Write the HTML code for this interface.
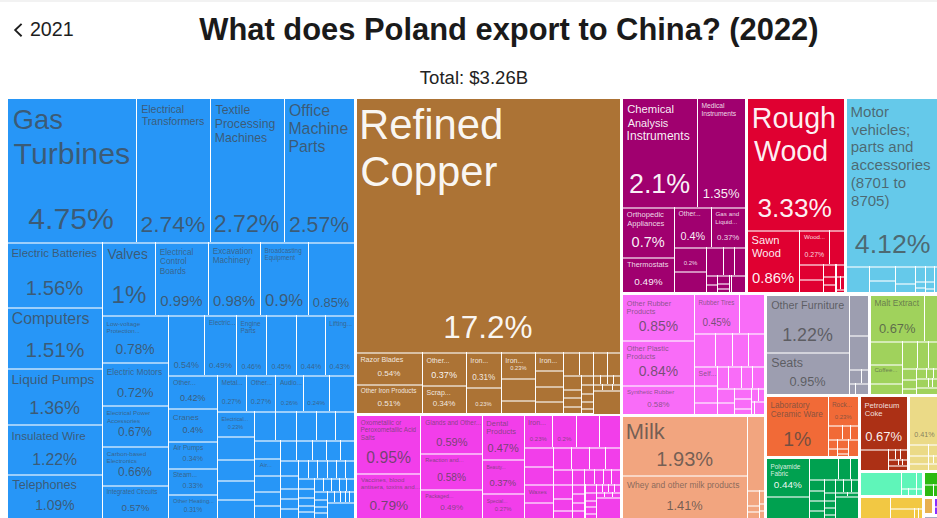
<!DOCTYPE html>
<html><head><meta charset="utf-8"><style>
html,body{margin:0;padding:0;background:#fff;width:937px;height:518px;overflow:hidden;position:relative}
body{font-family:"Liberation Sans",sans-serif}
.r{position:absolute}
.t{position:absolute;white-space:nowrap;line-height:1}
.hdr{position:absolute;left:0;top:0;width:937px;height:2px;background:#f2f2f2}
</style></head><body>
<div class="hdr"></div>
<svg style="position:absolute;left:0;top:0" width="40" height="50" viewBox="0 0 40 50"><path d="M21.6 23.9 L15.2 30.1 L21.6 36.3" fill="none" stroke="#1e1e1e" stroke-width="1.9"/></svg>
<div class="t" style="left:29.92px;top:19.94px;font-size:19.67px;color:#1e1e1e">2021</div>
<div class="t" style="left:199.30px;top:14.85px;font-size:30.88px;color:#1a1a1a;font-weight:bold">What does Poland export to China? (2022)</div>
<div class="t" style="left:419.83px;top:68.89px;font-size:18.56px;color:#222">Total: $3.26B</div>
<div class="r" style="left:8px;top:99px;width:128px;height:143px;background:#2796F7"></div>
<div class="r" style="left:137px;top:99px;width:73px;height:143px;background:#2796F7"></div>
<div class="r" style="left:211px;top:99px;width:73px;height:143px;background:#2796F7"></div>
<div class="r" style="left:285px;top:99px;width:69px;height:143px;background:#2796F7"></div>
<div class="r" style="left:8px;top:242px;width:94px;height:65px;background:#2796F7;box-shadow:inset 0 2px 0 rgba(255,255,255,0.55)"></div>
<div class="r" style="left:8px;top:307px;width:94px;height:61px;background:#2796F7;box-shadow:inset 0 2px 0 rgba(255,255,255,0.55)"></div>
<div class="r" style="left:8px;top:368px;width:94px;height:56px;background:#2796F7;box-shadow:inset 0 2px 0 rgba(255,255,255,0.55)"></div>
<div class="r" style="left:8px;top:424px;width:94px;height:50px;background:#2796F7;box-shadow:inset 0 2px 0 rgba(255,255,255,0.55)"></div>
<div class="r" style="left:8px;top:474px;width:94px;height:44px;background:#2796F7;box-shadow:inset 0 2px 0 rgba(255,255,255,0.55)"></div>
<div class="r" style="left:103px;top:242px;width:52px;height:73px;background:#2796F7;box-shadow:inset 0 2px 0 rgba(255,255,255,0.55)"></div>
<div class="r" style="left:156px;top:242px;width:52px;height:73px;background:#2796F7;box-shadow:inset 0 2px 0 rgba(255,255,255,0.55)"></div>
<div class="r" style="left:209px;top:242px;width:51px;height:73px;background:#2796F7;box-shadow:inset 0 2px 0 rgba(255,255,255,0.55)"></div>
<div class="r" style="left:261px;top:242px;width:47px;height:73px;background:#2796F7;box-shadow:inset 0 2px 0 rgba(255,255,255,0.55)"></div>
<div class="r" style="left:309px;top:242px;width:45px;height:73px;background:#2796F7;box-shadow:inset 0 2px 0 rgba(255,255,255,0.55)"></div>
<div class="r" style="left:103px;top:315px;width:65px;height:47px;background:#2796F7;box-shadow:inset 0 2px 0 rgba(255,255,255,0.55)"></div>
<div class="r" style="left:103px;top:362px;width:65px;height:43px;background:#2796F7;box-shadow:inset 0 2px 0 rgba(255,255,255,0.55)"></div>
<div class="r" style="left:103px;top:405px;width:65px;height:41px;background:#2796F7;box-shadow:inset 0 2px 0 rgba(255,255,255,0.55)"></div>
<div class="r" style="left:103px;top:446px;width:65px;height:39px;background:#2796F7;box-shadow:inset 0 2px 0 rgba(255,255,255,0.55)"></div>
<div class="r" style="left:103px;top:485px;width:65px;height:33px;background:#2796F7;box-shadow:inset 0 2px 0 rgba(255,255,255,0.55)"></div>
<div class="r" style="left:169px;top:315px;width:35px;height:60px;background:#2796F7;box-shadow:inset 0 2px 0 rgba(255,255,255,0.55)"></div>
<div class="r" style="left:205px;top:315px;width:31px;height:60px;background:#2796F7;box-shadow:inset 0 2px 0 rgba(255,255,255,0.55)"></div>
<div class="r" style="left:237px;top:315px;width:29px;height:60px;background:#2796F7;box-shadow:inset 0 2px 0 rgba(255,255,255,0.55)"></div>
<div class="r" style="left:267px;top:315px;width:29px;height:60px;background:#2796F7;box-shadow:inset 0 2px 0 rgba(255,255,255,0.55)"></div>
<div class="r" style="left:297px;top:315px;width:28px;height:60px;background:#2796F7;box-shadow:inset 0 2px 0 rgba(255,255,255,0.55)"></div>
<div class="r" style="left:326px;top:315px;width:28px;height:60px;background:#2796F7;box-shadow:inset 0 2px 0 rgba(255,255,255,0.55)"></div>
<div class="r" style="left:169px;top:375px;width:48px;height:33px;background:#2796F7;box-shadow:inset 0 2px 0 rgba(255,255,255,0.55)"></div>
<div class="r" style="left:169px;top:408px;width:48px;height:33px;background:#2796F7;box-shadow:inset 0 2px 0 rgba(255,255,255,0.55)"></div>
<div class="r" style="left:169px;top:441px;width:48px;height:27px;background:#2796F7;box-shadow:inset 0 2px 0 rgba(255,255,255,0.55)"></div>
<div class="r" style="left:169px;top:468px;width:48px;height:26px;background:#2796F7;box-shadow:inset 0 2px 0 rgba(255,255,255,0.55)"></div>
<div class="r" style="left:169px;top:494px;width:48px;height:24px;background:#2796F7;box-shadow:inset 0 2px 0 rgba(255,255,255,0.55)"></div>
<div class="r" style="left:218px;top:375px;width:28px;height:36px;background:#2796F7;box-shadow:inset 0 2px 0 rgba(255,255,255,0.55)"></div>
<div class="r" style="left:247px;top:375px;width:28px;height:36px;background:#2796F7;box-shadow:inset 0 2px 0 rgba(255,255,255,0.55)"></div>
<div class="r" style="left:276px;top:375px;width:27px;height:36px;background:#2796F7;box-shadow:inset 0 2px 0 rgba(255,255,255,0.55)"></div>
<div class="r" style="left:304px;top:375px;width:25px;height:36px;background:#2796F7;box-shadow:inset 0 2px 0 rgba(255,255,255,0.55)"></div>
<div class="r" style="left:330px;top:375px;width:24px;height:36px;background:#2796F7;box-shadow:inset 0 2px 0 rgba(255,255,255,0.55)"></div>
<div class="r" style="left:218px;top:411px;width:36px;height:25px;background:#2796F7;box-shadow:inset 0 2px 0 rgba(255,255,255,0.55)"></div>
<div class="r" style="left:218px;top:436px;width:36px;height:23px;background:#2796F7;box-shadow:inset 0 2px 0 rgba(255,255,255,0.55)"></div>
<div class="r" style="left:218px;top:459px;width:36px;height:21px;background:#2796F7;box-shadow:inset 0 2px 0 rgba(255,255,255,0.55)"></div>
<div class="r" style="left:218px;top:480px;width:36px;height:19px;background:#2796F7;box-shadow:inset 0 2px 0 rgba(255,255,255,0.55)"></div>
<div class="r" style="left:218px;top:499px;width:36px;height:19px;background:#2796F7;box-shadow:inset 0 2px 0 rgba(255,255,255,0.55)"></div>
<div class="r" style="left:255px;top:411px;width:20px;height:29px;background:#2796F7;box-shadow:inset 0 2px 0 rgba(255,255,255,0.55)"></div>
<div class="r" style="left:276px;top:411px;width:20px;height:29px;background:#2796F7;box-shadow:inset 0 2px 0 rgba(255,255,255,0.55)"></div>
<div class="r" style="left:297px;top:411px;width:19px;height:29px;background:#2796F7;box-shadow:inset 0 2px 0 rgba(255,255,255,0.55)"></div>
<div class="r" style="left:317px;top:411px;width:18px;height:29px;background:#2796F7;box-shadow:inset 0 2px 0 rgba(255,255,255,0.55)"></div>
<div class="r" style="left:336px;top:411px;width:18px;height:29px;background:#2796F7;box-shadow:inset 0 2px 0 rgba(255,255,255,0.55)"></div>
<div class="r" style="left:255px;top:440px;width:25px;height:18px;background:#2796F7;box-shadow:inset 0 2px 0 rgba(255,255,255,0.55)"></div>
<div class="r" style="left:255px;top:458px;width:25px;height:17px;background:#2796F7;box-shadow:inset 0 2px 0 rgba(255,255,255,0.55)"></div>
<div class="r" style="left:255px;top:475px;width:25px;height:16px;background:#2796F7;box-shadow:inset 0 2px 0 rgba(255,255,255,0.55)"></div>
<div class="r" style="left:255px;top:491px;width:25px;height:14px;background:#2796F7;box-shadow:inset 0 2px 0 rgba(255,255,255,0.55)"></div>
<div class="r" style="left:255px;top:505px;width:25px;height:13px;background:#2796F7;box-shadow:inset 0 2px 0 rgba(255,255,255,0.55)"></div>
<div class="r" style="left:281px;top:440px;width:15px;height:20px;background:#2796F7;box-shadow:inset 0 2px 0 rgba(255,255,255,0.55)"></div>
<div class="r" style="left:297px;top:440px;width:15px;height:20px;background:#2796F7;box-shadow:inset 0 2px 0 rgba(255,255,255,0.55)"></div>
<div class="r" style="left:313px;top:440px;width:13px;height:20px;background:#2796F7;box-shadow:inset 0 2px 0 rgba(255,255,255,0.55)"></div>
<div class="r" style="left:327px;top:440px;width:13px;height:20px;background:#2796F7;box-shadow:inset 0 2px 0 rgba(255,255,255,0.55)"></div>
<div class="r" style="left:341px;top:440px;width:13px;height:20px;background:#2796F7;box-shadow:inset 0 2px 0 rgba(255,255,255,0.55)"></div>
<div class="r" style="left:281px;top:460px;width:17px;height:15px;background:#2796F7;box-shadow:inset 0 2px 0 rgba(255,255,255,0.55)"></div>
<div class="r" style="left:281px;top:475px;width:17px;height:13px;background:#2796F7;box-shadow:inset 0 2px 0 rgba(255,255,255,0.55)"></div>
<div class="r" style="left:281px;top:488px;width:17px;height:10px;background:#2796F7;box-shadow:inset 0 2px 0 rgba(255,255,255,0.55)"></div>
<div class="r" style="left:281px;top:498px;width:17px;height:10px;background:#2796F7;box-shadow:inset 0 2px 0 rgba(255,255,255,0.55)"></div>
<div class="r" style="left:281px;top:508px;width:17px;height:10px;background:#2796F7;box-shadow:inset 0 2px 0 rgba(255,255,255,0.55)"></div>
<div class="r" style="left:299px;top:460px;width:9px;height:18px;background:#2796F7;box-shadow:inset 0 2px 0 rgba(255,255,255,0.55)"></div>
<div class="r" style="left:309px;top:460px;width:8px;height:18px;background:#2796F7;box-shadow:inset 0 2px 0 rgba(255,255,255,0.55)"></div>
<div class="r" style="left:318px;top:460px;width:9px;height:18px;background:#2796F7;box-shadow:inset 0 2px 0 rgba(255,255,255,0.55)"></div>
<div class="r" style="left:328px;top:460px;width:8px;height:18px;background:#2796F7;box-shadow:inset 0 2px 0 rgba(255,255,255,0.55)"></div>
<div class="r" style="left:337px;top:460px;width:8px;height:18px;background:#2796F7;box-shadow:inset 0 2px 0 rgba(255,255,255,0.55)"></div>
<div class="r" style="left:346px;top:460px;width:8px;height:18px;background:#2796F7;box-shadow:inset 0 2px 0 rgba(255,255,255,0.55)"></div>
<div class="r" style="left:299px;top:478px;width:15px;height:10px;background:#2796F7;box-shadow:inset 0 2px 0 rgba(255,255,255,0.55)"></div>
<div class="r" style="left:299px;top:488px;width:15px;height:9px;background:#2796F7;box-shadow:inset 0 2px 0 rgba(255,255,255,0.55)"></div>
<div class="r" style="left:299px;top:497px;width:15px;height:8px;background:#2796F7;box-shadow:inset 0 2px 0 rgba(255,255,255,0.55)"></div>
<div class="r" style="left:299px;top:505px;width:15px;height:6px;background:#2796F7;box-shadow:inset 0 2px 0 rgba(255,255,255,0.55)"></div>
<div class="r" style="left:299px;top:511px;width:15px;height:7px;background:#2796F7;box-shadow:inset 0 2px 0 rgba(255,255,255,0.55)"></div>
<div class="r" style="left:315px;top:478px;width:8px;height:13px;background:#2796F7;box-shadow:inset 0 2px 0 rgba(255,255,255,0.55)"></div>
<div class="r" style="left:324px;top:478px;width:7px;height:13px;background:#2796F7;box-shadow:inset 0 2px 0 rgba(255,255,255,0.55)"></div>
<div class="r" style="left:332px;top:478px;width:7px;height:13px;background:#2796F7;box-shadow:inset 0 2px 0 rgba(255,255,255,0.55)"></div>
<div class="r" style="left:340px;top:478px;width:6px;height:13px;background:#2796F7;box-shadow:inset 0 2px 0 rgba(255,255,255,0.55)"></div>
<div class="r" style="left:347px;top:478px;width:7px;height:13px;background:#2796F7;box-shadow:inset 0 2px 0 rgba(255,255,255,0.55)"></div>
<div class="r" style="left:315px;top:491px;width:12px;height:8px;background:#2796F7;box-shadow:inset 0 2px 0 rgba(255,255,255,0.55)"></div>
<div class="r" style="left:315px;top:499px;width:12px;height:7px;background:#2796F7;box-shadow:inset 0 2px 0 rgba(255,255,255,0.55)"></div>
<div class="r" style="left:315px;top:506px;width:12px;height:6px;background:#2796F7;box-shadow:inset 0 2px 0 rgba(255,255,255,0.55)"></div>
<div class="r" style="left:315px;top:512px;width:12px;height:6px;background:#2796F7;box-shadow:inset 0 2px 0 rgba(255,255,255,0.55)"></div>
<div class="r" style="left:328px;top:491px;width:6px;height:11px;background:#2796F7;box-shadow:inset 0 2px 0 rgba(255,255,255,0.55)"></div>
<div class="r" style="left:335px;top:491px;width:5px;height:11px;background:#2796F7;box-shadow:inset 0 2px 0 rgba(255,255,255,0.55)"></div>
<div class="r" style="left:341px;top:491px;width:4px;height:11px;background:#2796F7;box-shadow:inset 0 2px 0 rgba(255,255,255,0.55)"></div>
<div class="r" style="left:346px;top:491px;width:3px;height:11px;background:#2796F7;box-shadow:inset 0 2px 0 rgba(255,255,255,0.55)"></div>
<div class="r" style="left:350px;top:491px;width:4px;height:11px;background:#2796F7;box-shadow:inset 0 2px 0 rgba(255,255,255,0.55)"></div>
<div class="r" style="left:328px;top:502px;width:26px;height:17px;background:#2796F7;box-shadow:inset 0 2px 0 rgba(255,255,255,0.55)"></div>
<div class="r" style="left:357px;top:99px;width:263px;height:253px;background:#AC7335"></div>
<div class="r" style="left:357px;top:352px;width:65px;height:32px;background:#AC7335;box-shadow:inset 0 2px 0 rgba(255,255,255,0.55)"></div>
<div class="r" style="left:357px;top:384px;width:65px;height:29px;background:#AC7335;box-shadow:inset 0 2px 0 rgba(255,255,255,0.55)"></div>
<div class="r" style="left:423px;top:352px;width:43px;height:33px;background:#AC7335;box-shadow:inset 0 2px 0 rgba(255,255,255,0.55)"></div>
<div class="r" style="left:423px;top:385px;width:43px;height:28px;background:#AC7335;box-shadow:inset 0 2px 0 rgba(255,255,255,0.55)"></div>
<div class="r" style="left:467px;top:352px;width:34px;height:35px;background:#AC7335;box-shadow:inset 0 2px 0 rgba(255,255,255,0.55)"></div>
<div class="r" style="left:467px;top:387px;width:34px;height:26px;background:#AC7335;box-shadow:inset 0 2px 0 rgba(255,255,255,0.55)"></div>
<div class="r" style="left:502px;top:352px;width:33px;height:26px;background:#AC7335;box-shadow:inset 0 2px 0 rgba(255,255,255,0.55)"></div>
<div class="r" style="left:502px;top:378px;width:33px;height:22px;background:#AC7335;box-shadow:inset 0 2px 0 rgba(255,255,255,0.55)"></div>
<div class="r" style="left:502px;top:400px;width:33px;height:13px;background:#AC7335;box-shadow:inset 0 2px 0 rgba(255,255,255,0.55)"></div>
<div class="r" style="left:536px;top:352px;width:27px;height:18px;background:#AC7335;box-shadow:inset 0 2px 0 rgba(255,255,255,0.55)"></div>
<div class="r" style="left:536px;top:370px;width:27px;height:16px;background:#AC7335;box-shadow:inset 0 2px 0 rgba(255,255,255,0.55)"></div>
<div class="r" style="left:536px;top:386px;width:27px;height:15px;background:#AC7335;box-shadow:inset 0 2px 0 rgba(255,255,255,0.55)"></div>
<div class="r" style="left:536px;top:401px;width:27px;height:12px;background:#AC7335;box-shadow:inset 0 2px 0 rgba(255,255,255,0.55)"></div>
<div class="r" style="left:564px;top:352px;width:15px;height:23px;background:#AC7335;box-shadow:inset 0 2px 0 rgba(255,255,255,0.55)"></div>
<div class="r" style="left:580px;top:352px;width:13px;height:23px;background:#AC7335;box-shadow:inset 0 2px 0 rgba(255,255,255,0.55)"></div>
<div class="r" style="left:594px;top:352px;width:13px;height:23px;background:#AC7335;box-shadow:inset 0 2px 0 rgba(255,255,255,0.55)"></div>
<div class="r" style="left:608px;top:352px;width:12px;height:23px;background:#AC7335;box-shadow:inset 0 2px 0 rgba(255,255,255,0.55)"></div>
<div class="r" style="left:564px;top:375px;width:17px;height:14px;background:#AC7335;box-shadow:inset 0 2px 0 rgba(255,255,255,0.55)"></div>
<div class="r" style="left:564px;top:389px;width:17px;height:8px;background:#AC7335;box-shadow:inset 0 2px 0 rgba(255,255,255,0.55)"></div>
<div class="r" style="left:564px;top:397px;width:17px;height:9px;background:#AC7335;box-shadow:inset 0 2px 0 rgba(255,255,255,0.55)"></div>
<div class="r" style="left:564px;top:406px;width:17px;height:7px;background:#AC7335;box-shadow:inset 0 2px 0 rgba(255,255,255,0.55)"></div>
<div class="r" style="left:582px;top:375px;width:11px;height:9px;background:#AC7335;box-shadow:inset 0 2px 0 rgba(255,255,255,0.55)"></div>
<div class="r" style="left:582px;top:384px;width:11px;height:9px;background:#AC7335;box-shadow:inset 0 2px 0 rgba(255,255,255,0.55)"></div>
<div class="r" style="left:582px;top:393px;width:11px;height:8px;background:#AC7335;box-shadow:inset 0 2px 0 rgba(255,255,255,0.55)"></div>
<div class="r" style="left:582px;top:401px;width:11px;height:7px;background:#AC7335;box-shadow:inset 0 2px 0 rgba(255,255,255,0.55)"></div>
<div class="r" style="left:582px;top:408px;width:11px;height:5px;background:#AC7335;box-shadow:inset 0 2px 0 rgba(255,255,255,0.55)"></div>
<div class="r" style="left:594px;top:375px;width:6px;height:9px;background:#AC7335;box-shadow:inset 0 2px 0 rgba(255,255,255,0.55)"></div>
<div class="r" style="left:601px;top:375px;width:6px;height:9px;background:#AC7335;box-shadow:inset 0 2px 0 rgba(255,255,255,0.55)"></div>
<div class="r" style="left:608px;top:375px;width:5px;height:9px;background:#AC7335;box-shadow:inset 0 2px 0 rgba(255,255,255,0.55)"></div>
<div class="r" style="left:614px;top:375px;width:6px;height:9px;background:#AC7335;box-shadow:inset 0 2px 0 rgba(255,255,255,0.55)"></div>
<div class="r" style="left:594px;top:384px;width:8px;height:6px;background:#AC7335;box-shadow:inset 0 2px 0 rgba(255,255,255,0.55)"></div>
<div class="r" style="left:603px;top:384px;width:9px;height:6px;background:#AC7335;box-shadow:inset 0 2px 0 rgba(255,255,255,0.55)"></div>
<div class="r" style="left:613px;top:384px;width:7px;height:6px;background:#AC7335;box-shadow:inset 0 2px 0 rgba(255,255,255,0.55)"></div>
<div class="r" style="left:594px;top:390px;width:26px;height:24px;background:#AC7335;box-shadow:inset 0 2px 0 rgba(255,255,255,0.55)"></div>
<div class="r" style="left:357px;top:416px;width:63px;height:57px;background:#F23EEA"></div>
<div class="r" style="left:357px;top:473px;width:63px;height:45px;background:#F23EEA;box-shadow:inset 0 2px 0 rgba(255,255,255,0.55)"></div>
<div class="r" style="left:421px;top:416px;width:61px;height:37px;background:#F23EEA"></div>
<div class="r" style="left:421px;top:453px;width:61px;height:36px;background:#F23EEA;box-shadow:inset 0 2px 0 rgba(255,255,255,0.55)"></div>
<div class="r" style="left:421px;top:489px;width:61px;height:29px;background:#F23EEA;box-shadow:inset 0 2px 0 rgba(255,255,255,0.55)"></div>
<div class="r" style="left:483px;top:416px;width:41px;height:43px;background:#F23EEA"></div>
<div class="r" style="left:483px;top:459px;width:41px;height:34px;background:#F23EEA;box-shadow:inset 0 2px 0 rgba(255,255,255,0.55)"></div>
<div class="r" style="left:483px;top:493px;width:41px;height:25px;background:#F23EEA;box-shadow:inset 0 2px 0 rgba(255,255,255,0.55)"></div>
<div class="r" style="left:525px;top:416px;width:27px;height:31px;background:#F23EEA"></div>
<div class="r" style="left:553px;top:416px;width:23px;height:31px;background:#F23EEA"></div>
<div class="r" style="left:577px;top:416px;width:22px;height:31px;background:#F23EEA"></div>
<div class="r" style="left:600px;top:416px;width:20px;height:31px;background:#F23EEA"></div>
<div class="r" style="left:525px;top:447px;width:28px;height:19px;background:#F23EEA;box-shadow:inset 0 2px 0 rgba(255,255,255,0.55)"></div>
<div class="r" style="left:525px;top:466px;width:28px;height:18px;background:#F23EEA;box-shadow:inset 0 2px 0 rgba(255,255,255,0.55)"></div>
<div class="r" style="left:525px;top:484px;width:28px;height:18px;background:#F23EEA;box-shadow:inset 0 2px 0 rgba(255,255,255,0.55)"></div>
<div class="r" style="left:525px;top:502px;width:28px;height:16px;background:#F23EEA;box-shadow:inset 0 2px 0 rgba(255,255,255,0.55)"></div>
<div class="r" style="left:554px;top:447px;width:17px;height:22px;background:#F23EEA;box-shadow:inset 0 2px 0 rgba(255,255,255,0.55)"></div>
<div class="r" style="left:572px;top:447px;width:17px;height:22px;background:#F23EEA;box-shadow:inset 0 2px 0 rgba(255,255,255,0.55)"></div>
<div class="r" style="left:590px;top:447px;width:15px;height:22px;background:#F23EEA;box-shadow:inset 0 2px 0 rgba(255,255,255,0.55)"></div>
<div class="r" style="left:606px;top:447px;width:14px;height:22px;background:#F23EEA;box-shadow:inset 0 2px 0 rgba(255,255,255,0.55)"></div>
<div class="r" style="left:554px;top:469px;width:18px;height:15px;background:#F23EEA;box-shadow:inset 0 2px 0 rgba(255,255,255,0.55)"></div>
<div class="r" style="left:554px;top:484px;width:18px;height:14px;background:#F23EEA;box-shadow:inset 0 2px 0 rgba(255,255,255,0.55)"></div>
<div class="r" style="left:554px;top:498px;width:18px;height:12px;background:#F23EEA;box-shadow:inset 0 2px 0 rgba(255,255,255,0.55)"></div>
<div class="r" style="left:554px;top:510px;width:18px;height:8px;background:#F23EEA;box-shadow:inset 0 2px 0 rgba(255,255,255,0.55)"></div>
<div class="r" style="left:573px;top:469px;width:11px;height:15px;background:#F23EEA;box-shadow:inset 0 2px 0 rgba(255,255,255,0.55)"></div>
<div class="r" style="left:585px;top:469px;width:9px;height:15px;background:#F23EEA;box-shadow:inset 0 2px 0 rgba(255,255,255,0.55)"></div>
<div class="r" style="left:595px;top:469px;width:8px;height:15px;background:#F23EEA;box-shadow:inset 0 2px 0 rgba(255,255,255,0.55)"></div>
<div class="r" style="left:604px;top:469px;width:7px;height:15px;background:#F23EEA;box-shadow:inset 0 2px 0 rgba(255,255,255,0.55)"></div>
<div class="r" style="left:612px;top:469px;width:8px;height:15px;background:#F23EEA;box-shadow:inset 0 2px 0 rgba(255,255,255,0.55)"></div>
<div class="r" style="left:573px;top:484px;width:11px;height:9px;background:#F23EEA;box-shadow:inset 0 2px 0 rgba(255,255,255,0.55)"></div>
<div class="r" style="left:573px;top:493px;width:11px;height:9px;background:#F23EEA;box-shadow:inset 0 2px 0 rgba(255,255,255,0.55)"></div>
<div class="r" style="left:573px;top:502px;width:11px;height:8px;background:#F23EEA;box-shadow:inset 0 2px 0 rgba(255,255,255,0.55)"></div>
<div class="r" style="left:573px;top:510px;width:11px;height:8px;background:#F23EEA;box-shadow:inset 0 2px 0 rgba(255,255,255,0.55)"></div>
<div class="r" style="left:586px;top:484px;width:10px;height:8px;background:#F23EEA;box-shadow:inset 0 2px 0 rgba(255,255,255,0.55)"></div>
<div class="r" style="left:586px;top:492px;width:10px;height:8px;background:#F23EEA;box-shadow:inset 0 2px 0 rgba(255,255,255,0.55)"></div>
<div class="r" style="left:586px;top:500px;width:10px;height:6px;background:#F23EEA;box-shadow:inset 0 2px 0 rgba(255,255,255,0.55)"></div>
<div class="r" style="left:586px;top:506px;width:10px;height:7px;background:#F23EEA;box-shadow:inset 0 2px 0 rgba(255,255,255,0.55)"></div>
<div class="r" style="left:586px;top:513px;width:10px;height:5px;background:#F23EEA;box-shadow:inset 0 2px 0 rgba(255,255,255,0.55)"></div>
<div class="r" style="left:597px;top:484px;width:5px;height:8px;background:#F23EEA;box-shadow:inset 0 2px 0 rgba(255,255,255,0.55)"></div>
<div class="r" style="left:603px;top:484px;width:5px;height:8px;background:#F23EEA;box-shadow:inset 0 2px 0 rgba(255,255,255,0.55)"></div>
<div class="r" style="left:609px;top:484px;width:5px;height:8px;background:#F23EEA;box-shadow:inset 0 2px 0 rgba(255,255,255,0.55)"></div>
<div class="r" style="left:615px;top:484px;width:5px;height:8px;background:#F23EEA;box-shadow:inset 0 2px 0 rgba(255,255,255,0.55)"></div>
<div class="r" style="left:597px;top:492px;width:7px;height:5px;background:#F23EEA;box-shadow:inset 0 2px 0 rgba(255,255,255,0.55)"></div>
<div class="r" style="left:605px;top:492px;width:7px;height:5px;background:#F23EEA;box-shadow:inset 0 2px 0 rgba(255,255,255,0.55)"></div>
<div class="r" style="left:613px;top:492px;width:7px;height:5px;background:#F23EEA;box-shadow:inset 0 2px 0 rgba(255,255,255,0.55)"></div>
<div class="r" style="left:597px;top:497px;width:23px;height:22px;background:#F23EEA;box-shadow:inset 0 2px 0 rgba(255,255,255,0.55)"></div>
<div class="r" style="left:623px;top:99px;width:74px;height:108px;background:#A0006F"></div>
<div class="r" style="left:698px;top:99px;width:47px;height:108px;background:#A0006F"></div>
<div class="r" style="left:623px;top:207px;width:51px;height:50px;background:#A0006F;box-shadow:inset 0 2px 0 rgba(255,255,255,0.55)"></div>
<div class="r" style="left:623px;top:257px;width:51px;height:35px;background:#A0006F;box-shadow:inset 0 2px 0 rgba(255,255,255,0.55)"></div>
<div class="r" style="left:675px;top:207px;width:36px;height:40px;background:#A0006F;box-shadow:inset 0 2px 0 rgba(255,255,255,0.55)"></div>
<div class="r" style="left:712px;top:207px;width:33px;height:40px;background:#A0006F;box-shadow:inset 0 2px 0 rgba(255,255,255,0.55)"></div>
<div class="r" style="left:675px;top:247px;width:31px;height:24px;background:#A0006F;box-shadow:inset 0 2px 0 rgba(255,255,255,0.55)"></div>
<div class="r" style="left:675px;top:271px;width:31px;height:21px;background:#A0006F;box-shadow:inset 0 2px 0 rgba(255,255,255,0.55)"></div>
<div class="r" style="left:707px;top:247px;width:16px;height:28px;background:#A0006F;box-shadow:inset 0 2px 0 rgba(255,255,255,0.55)"></div>
<div class="r" style="left:724px;top:247px;width:10px;height:28px;background:#A0006F;box-shadow:inset 0 2px 0 rgba(255,255,255,0.55)"></div>
<div class="r" style="left:735px;top:247px;width:10px;height:28px;background:#A0006F;box-shadow:inset 0 2px 0 rgba(255,255,255,0.55)"></div>
<div class="r" style="left:707px;top:275px;width:10px;height:9px;background:#A0006F;box-shadow:inset 0 2px 0 rgba(255,255,255,0.55)"></div>
<div class="r" style="left:707px;top:284px;width:10px;height:8px;background:#A0006F;box-shadow:inset 0 2px 0 rgba(255,255,255,0.55)"></div>
<div class="r" style="left:718px;top:275px;width:11px;height:8px;background:#A0006F;box-shadow:inset 0 2px 0 rgba(255,255,255,0.55)"></div>
<div class="r" style="left:718px;top:283px;width:11px;height:5px;background:#A0006F;box-shadow:inset 0 2px 0 rgba(255,255,255,0.55)"></div>
<div class="r" style="left:718px;top:288px;width:11px;height:4px;background:#A0006F;box-shadow:inset 0 2px 0 rgba(255,255,255,0.55)"></div>
<div class="r" style="left:730px;top:275px;width:1px;height:17px;background:#A0006F;box-shadow:inset 0 2px 0 rgba(255,255,255,0.55)"></div>
<div class="r" style="left:732px;top:275px;width:13px;height:17px;background:#A0006F;box-shadow:inset 0 2px 0 rgba(255,255,255,0.55)"></div>
<div class="r" style="left:748px;top:99px;width:96px;height:131px;background:#E00031"></div>
<div class="r" style="left:748px;top:230px;width:51px;height:62px;background:#E00031;box-shadow:inset 0 2px 0 rgba(255,255,255,0.55)"></div>
<div class="r" style="left:800px;top:230px;width:29px;height:34px;background:#E00031;box-shadow:inset 0 2px 0 rgba(255,255,255,0.55)"></div>
<div class="r" style="left:830px;top:230px;width:14px;height:34px;background:#E00031;box-shadow:inset 0 2px 0 rgba(255,255,255,0.55)"></div>
<div class="r" style="left:800px;top:264px;width:23px;height:15px;background:#E00031;box-shadow:inset 0 2px 0 rgba(255,255,255,0.55)"></div>
<div class="r" style="left:800px;top:279px;width:23px;height:13px;background:#E00031;box-shadow:inset 0 2px 0 rgba(255,255,255,0.55)"></div>
<div class="r" style="left:824px;top:264px;width:11px;height:12px;background:#E00031;box-shadow:inset 0 2px 0 rgba(255,255,255,0.55)"></div>
<div class="r" style="left:824px;top:276px;width:11px;height:8px;background:#E00031;box-shadow:inset 0 2px 0 rgba(255,255,255,0.55)"></div>
<div class="r" style="left:824px;top:284px;width:11px;height:8px;background:#E00031;box-shadow:inset 0 2px 0 rgba(255,255,255,0.55)"></div>
<div class="r" style="left:837px;top:264px;width:7px;height:12px;background:#E00031;box-shadow:inset 0 2px 0 rgba(255,255,255,0.55)"></div>
<div class="r" style="left:837px;top:276px;width:3px;height:13px;background:#E00031;box-shadow:inset 0 2px 0 rgba(255,255,255,0.55)"></div>
<div class="r" style="left:841px;top:276px;width:3px;height:13px;background:#E00031;box-shadow:inset 0 2px 0 rgba(255,255,255,0.55)"></div>
<div class="r" style="left:837px;top:289px;width:7px;height:3px;background:#E00031;box-shadow:inset 0 2px 0 rgba(255,255,255,0.55)"></div>
<div class="r" style="left:847px;top:99px;width:90px;height:167px;background:#65C9EA"></div>
<div class="r" style="left:847px;top:266px;width:22px;height:26px;background:#65C9EA;box-shadow:inset 0 2px 0 rgba(255,255,255,0.55)"></div>
<div class="r" style="left:870px;top:266px;width:25px;height:14px;background:#65C9EA;box-shadow:inset 0 2px 0 rgba(255,255,255,0.55)"></div>
<div class="r" style="left:870px;top:280px;width:25px;height:12px;background:#65C9EA;box-shadow:inset 0 2px 0 rgba(255,255,255,0.55)"></div>
<div class="r" style="left:896px;top:266px;width:19px;height:17px;background:#65C9EA;box-shadow:inset 0 2px 0 rgba(255,255,255,0.55)"></div>
<div class="r" style="left:896px;top:283px;width:19px;height:9px;background:#65C9EA;box-shadow:inset 0 2px 0 rgba(255,255,255,0.55)"></div>
<div class="r" style="left:916px;top:266px;width:9px;height:15px;background:#65C9EA;box-shadow:inset 0 2px 0 rgba(255,255,255,0.55)"></div>
<div class="r" style="left:916px;top:281px;width:9px;height:6px;background:#65C9EA;box-shadow:inset 0 2px 0 rgba(255,255,255,0.55)"></div>
<div class="r" style="left:916px;top:287px;width:9px;height:5px;background:#65C9EA;box-shadow:inset 0 2px 0 rgba(255,255,255,0.55)"></div>
<div class="r" style="left:926px;top:266px;width:8px;height:15px;background:#65C9EA;box-shadow:inset 0 2px 0 rgba(255,255,255,0.55)"></div>
<div class="r" style="left:926px;top:281px;width:8px;height:7px;background:#65C9EA;box-shadow:inset 0 2px 0 rgba(255,255,255,0.55)"></div>
<div class="r" style="left:926px;top:288px;width:8px;height:4px;background:#65C9EA;box-shadow:inset 0 2px 0 rgba(255,255,255,0.55)"></div>
<div class="r" style="left:935px;top:266px;width:2px;height:26px;background:#65C9EA;box-shadow:inset 0 2px 0 rgba(255,255,255,0.55)"></div>
<div class="r" style="left:623px;top:295px;width:71px;height:45px;background:#F96CF8"></div>
<div class="r" style="left:623px;top:340px;width:71px;height:45px;background:#F96CF8;box-shadow:inset 0 2px 0 rgba(255,255,255,0.55)"></div>
<div class="r" style="left:623px;top:385px;width:71px;height:29px;background:#F96CF8;box-shadow:inset 0 2px 0 rgba(255,255,255,0.55)"></div>
<div class="r" style="left:695px;top:295px;width:44px;height:38px;background:#F96CF8"></div>
<div class="r" style="left:740px;top:295px;width:24px;height:38px;background:#F96CF8"></div>
<div class="r" style="left:695px;top:333px;width:20px;height:33px;background:#F96CF8;box-shadow:inset 0 2px 0 rgba(255,255,255,0.55)"></div>
<div class="r" style="left:716px;top:333px;width:16px;height:33px;background:#F96CF8;box-shadow:inset 0 2px 0 rgba(255,255,255,0.55)"></div>
<div class="r" style="left:733px;top:333px;width:15px;height:33px;background:#F96CF8;box-shadow:inset 0 2px 0 rgba(255,255,255,0.55)"></div>
<div class="r" style="left:749px;top:333px;width:15px;height:33px;background:#F96CF8;box-shadow:inset 0 2px 0 rgba(255,255,255,0.55)"></div>
<div class="r" style="left:695px;top:366px;width:22px;height:19px;background:#F96CF8;box-shadow:inset 0 2px 0 rgba(255,255,255,0.55)"></div>
<div class="r" style="left:718px;top:366px;width:10px;height:22px;background:#F96CF8;box-shadow:inset 0 2px 0 rgba(255,255,255,0.55)"></div>
<div class="r" style="left:729px;top:366px;width:12px;height:22px;background:#F96CF8;box-shadow:inset 0 2px 0 rgba(255,255,255,0.55)"></div>
<div class="r" style="left:742px;top:366px;width:10px;height:22px;background:#F96CF8;box-shadow:inset 0 2px 0 rgba(255,255,255,0.55)"></div>
<div class="r" style="left:753px;top:366px;width:11px;height:22px;background:#F96CF8;box-shadow:inset 0 2px 0 rgba(255,255,255,0.55)"></div>
<div class="r" style="left:695px;top:385px;width:22px;height:17px;background:#F96CF8;box-shadow:inset 0 2px 0 rgba(255,255,255,0.55)"></div>
<div class="r" style="left:695px;top:402px;width:22px;height:12px;background:#F96CF8;box-shadow:inset 0 2px 0 rgba(255,255,255,0.55)"></div>
<div class="r" style="left:718px;top:388px;width:16px;height:14px;background:#F96CF8;box-shadow:inset 0 2px 0 rgba(255,255,255,0.55)"></div>
<div class="r" style="left:718px;top:402px;width:16px;height:12px;background:#F96CF8;box-shadow:inset 0 2px 0 rgba(255,255,255,0.55)"></div>
<div class="r" style="left:735px;top:388px;width:16px;height:10px;background:#F96CF8;box-shadow:inset 0 2px 0 rgba(255,255,255,0.55)"></div>
<div class="r" style="left:735px;top:398px;width:16px;height:10px;background:#F96CF8;box-shadow:inset 0 2px 0 rgba(255,255,255,0.55)"></div>
<div class="r" style="left:735px;top:408px;width:16px;height:6px;background:#F96CF8;box-shadow:inset 0 2px 0 rgba(255,255,255,0.55)"></div>
<div class="r" style="left:752px;top:388px;width:6px;height:13px;background:#F96CF8;box-shadow:inset 0 2px 0 rgba(255,255,255,0.55)"></div>
<div class="r" style="left:759px;top:388px;width:5px;height:13px;background:#F96CF8;box-shadow:inset 0 2px 0 rgba(255,255,255,0.55)"></div>
<div class="r" style="left:752px;top:401px;width:2px;height:13px;background:#F96CF8;box-shadow:inset 0 2px 0 rgba(255,255,255,0.55)"></div>
<div class="r" style="left:755px;top:401px;width:9px;height:13px;background:#F96CF8;box-shadow:inset 0 2px 0 rgba(255,255,255,0.55)"></div>
<div class="r" style="left:623px;top:417px;width:124px;height:58px;background:#F2A57F"></div>
<div class="r" style="left:623px;top:475px;width:124px;height:43px;background:#F2A57F;box-shadow:inset 0 2px 0 rgba(255,255,255,0.55)"></div>
<div class="r" style="left:748px;top:417px;width:16px;height:73px;background:#F2A57F"></div>
<div class="r" style="left:748px;top:490px;width:11px;height:15px;background:#F2A57F;box-shadow:inset 0 2px 0 rgba(255,255,255,0.55)"></div>
<div class="r" style="left:748px;top:505px;width:11px;height:6px;background:#F2A57F;box-shadow:inset 0 2px 0 rgba(255,255,255,0.55)"></div>
<div class="r" style="left:748px;top:511px;width:11px;height:7px;background:#F2A57F;box-shadow:inset 0 2px 0 rgba(255,255,255,0.55)"></div>
<div class="r" style="left:760px;top:490px;width:4px;height:13px;background:#F2A57F;box-shadow:inset 0 2px 0 rgba(255,255,255,0.55)"></div>
<div class="r" style="left:760px;top:503px;width:4px;height:7px;background:#F2A57F;box-shadow:inset 0 2px 0 rgba(255,255,255,0.55)"></div>
<div class="r" style="left:760px;top:510px;width:4px;height:8px;background:#F2A57F;box-shadow:inset 0 2px 0 rgba(255,255,255,0.55)"></div>
<div class="r" style="left:767px;top:296px;width:82px;height:56px;background:#9D9EB0"></div>
<div class="r" style="left:767px;top:352px;width:82px;height:42px;background:#9D9EB0;box-shadow:inset 0 2px 0 rgba(255,255,255,0.55)"></div>
<div class="r" style="left:850px;top:296px;width:18px;height:39px;background:#9D9EB0"></div>
<div class="r" style="left:850px;top:335px;width:18px;height:34px;background:#9D9EB0;box-shadow:inset 0 2px 0 rgba(255,255,255,0.55)"></div>
<div class="r" style="left:850px;top:369px;width:11px;height:14px;background:#9D9EB0;box-shadow:inset 0 2px 0 rgba(255,255,255,0.55)"></div>
<div class="r" style="left:862px;top:369px;width:6px;height:14px;background:#9D9EB0;box-shadow:inset 0 2px 0 rgba(255,255,255,0.55)"></div>
<div class="r" style="left:850px;top:383px;width:5px;height:11px;background:#9D9EB0;box-shadow:inset 0 2px 0 rgba(255,255,255,0.55)"></div>
<div class="r" style="left:856px;top:383px;width:12px;height:11px;background:#9D9EB0;box-shadow:inset 0 2px 0 rgba(255,255,255,0.55)"></div>
<div class="r" style="left:871px;top:296px;width:53px;height:45px;background:#A0D25C"></div>
<div class="r" style="left:925px;top:296px;width:12px;height:45px;background:#A0D25C"></div>
<div class="r" style="left:871px;top:341px;width:31px;height:23px;background:#A0D25C;box-shadow:inset 0 2px 0 rgba(255,255,255,0.55)"></div>
<div class="r" style="left:871px;top:364px;width:31px;height:19px;background:#A0D25C;box-shadow:inset 0 2px 0 rgba(255,255,255,0.55)"></div>
<div class="r" style="left:871px;top:383px;width:31px;height:11px;background:#A0D25C;box-shadow:inset 0 2px 0 rgba(255,255,255,0.55)"></div>
<div class="r" style="left:903px;top:341px;width:14px;height:27px;background:#A0D25C;box-shadow:inset 0 2px 0 rgba(255,255,255,0.55)"></div>
<div class="r" style="left:918px;top:341px;width:10px;height:27px;background:#A0D25C;box-shadow:inset 0 2px 0 rgba(255,255,255,0.55)"></div>
<div class="r" style="left:929px;top:341px;width:8px;height:27px;background:#A0D25C;box-shadow:inset 0 2px 0 rgba(255,255,255,0.55)"></div>
<div class="r" style="left:903px;top:368px;width:13px;height:11px;background:#A0D25C;box-shadow:inset 0 2px 0 rgba(255,255,255,0.55)"></div>
<div class="r" style="left:903px;top:379px;width:13px;height:9px;background:#A0D25C;box-shadow:inset 0 2px 0 rgba(255,255,255,0.55)"></div>
<div class="r" style="left:903px;top:388px;width:13px;height:6px;background:#A0D25C;box-shadow:inset 0 2px 0 rgba(255,255,255,0.55)"></div>
<div class="r" style="left:917px;top:368px;width:9px;height:10px;background:#A0D25C;box-shadow:inset 0 2px 0 rgba(255,255,255,0.55)"></div>
<div class="r" style="left:927px;top:368px;width:6px;height:10px;background:#A0D25C;box-shadow:inset 0 2px 0 rgba(255,255,255,0.55)"></div>
<div class="r" style="left:934px;top:368px;width:3px;height:10px;background:#A0D25C;box-shadow:inset 0 2px 0 rgba(255,255,255,0.55)"></div>
<div class="r" style="left:917px;top:378px;width:11px;height:9px;background:#A0D25C;box-shadow:inset 0 2px 0 rgba(255,255,255,0.55)"></div>
<div class="r" style="left:929px;top:378px;width:3px;height:9px;background:#A0D25C;box-shadow:inset 0 2px 0 rgba(255,255,255,0.55)"></div>
<div class="r" style="left:933px;top:378px;width:4px;height:9px;background:#A0D25C;box-shadow:inset 0 2px 0 rgba(255,255,255,0.55)"></div>
<div class="r" style="left:917px;top:387px;width:20px;height:7px;background:#A0D25C;box-shadow:inset 0 2px 0 rgba(255,255,255,0.55)"></div>
<div class="r" style="left:767px;top:397px;width:61px;height:59px;background:#F16A37"></div>
<div class="r" style="left:829px;top:397px;width:29px;height:28px;background:#F16A37"></div>
<div class="r" style="left:829px;top:425px;width:13px;height:14px;background:#F16A37;box-shadow:inset 0 2px 0 rgba(255,255,255,0.55)"></div>
<div class="r" style="left:843px;top:425px;width:7px;height:14px;background:#F16A37;box-shadow:inset 0 2px 0 rgba(255,255,255,0.55)"></div>
<div class="r" style="left:851px;top:425px;width:7px;height:14px;background:#F16A37;box-shadow:inset 0 2px 0 rgba(255,255,255,0.55)"></div>
<div class="r" style="left:829px;top:439px;width:8px;height:9px;background:#F16A37;box-shadow:inset 0 2px 0 rgba(255,255,255,0.55)"></div>
<div class="r" style="left:829px;top:448px;width:8px;height:8px;background:#F16A37;box-shadow:inset 0 2px 0 rgba(255,255,255,0.55)"></div>
<div class="r" style="left:838px;top:439px;width:10px;height:9px;background:#F16A37;box-shadow:inset 0 2px 0 rgba(255,255,255,0.55)"></div>
<div class="r" style="left:838px;top:448px;width:10px;height:5px;background:#F16A37;box-shadow:inset 0 2px 0 rgba(255,255,255,0.55)"></div>
<div class="r" style="left:838px;top:453px;width:10px;height:3px;background:#F16A37;box-shadow:inset 0 2px 0 rgba(255,255,255,0.55)"></div>
<div class="r" style="left:849px;top:439px;width:9px;height:17px;background:#F16A37;box-shadow:inset 0 2px 0 rgba(255,255,255,0.55)"></div>
<div class="r" style="left:767px;top:459px;width:42px;height:37px;background:#00A150"></div>
<div class="r" style="left:767px;top:496px;width:42px;height:22px;background:#00A150;box-shadow:inset 0 2px 0 rgba(255,255,255,0.55)"></div>
<div class="r" style="left:810px;top:459px;width:28px;height:20px;background:#00A150"></div>
<div class="r" style="left:839px;top:459px;width:11px;height:20px;background:#00A150"></div>
<div class="r" style="left:851px;top:459px;width:7px;height:20px;background:#00A150"></div>
<div class="r" style="left:810px;top:479px;width:14px;height:11px;background:#00A150;box-shadow:inset 0 2px 0 rgba(255,255,255,0.55)"></div>
<div class="r" style="left:810px;top:490px;width:14px;height:10px;background:#00A150;box-shadow:inset 0 2px 0 rgba(255,255,255,0.55)"></div>
<div class="r" style="left:810px;top:500px;width:14px;height:10px;background:#00A150;box-shadow:inset 0 2px 0 rgba(255,255,255,0.55)"></div>
<div class="r" style="left:810px;top:510px;width:14px;height:8px;background:#00A150;box-shadow:inset 0 2px 0 rgba(255,255,255,0.55)"></div>
<div class="r" style="left:825px;top:479px;width:10px;height:13px;background:#00A150;box-shadow:inset 0 2px 0 rgba(255,255,255,0.55)"></div>
<div class="r" style="left:825px;top:492px;width:10px;height:8px;background:#00A150;box-shadow:inset 0 2px 0 rgba(255,255,255,0.55)"></div>
<div class="r" style="left:825px;top:500px;width:10px;height:7px;background:#00A150;box-shadow:inset 0 2px 0 rgba(255,255,255,0.55)"></div>
<div class="r" style="left:825px;top:507px;width:10px;height:7px;background:#00A150;box-shadow:inset 0 2px 0 rgba(255,255,255,0.55)"></div>
<div class="r" style="left:825px;top:514px;width:10px;height:4px;background:#00A150;box-shadow:inset 0 2px 0 rgba(255,255,255,0.55)"></div>
<div class="r" style="left:836px;top:479px;width:7px;height:13px;background:#00A150;box-shadow:inset 0 2px 0 rgba(255,255,255,0.55)"></div>
<div class="r" style="left:844px;top:479px;width:7px;height:13px;background:#00A150;box-shadow:inset 0 2px 0 rgba(255,255,255,0.55)"></div>
<div class="r" style="left:852px;top:479px;width:6px;height:13px;background:#00A150;box-shadow:inset 0 2px 0 rgba(255,255,255,0.55)"></div>
<div class="r" style="left:836px;top:492px;width:11px;height:4px;background:#00A150;box-shadow:inset 0 2px 0 rgba(255,255,255,0.55)"></div>
<div class="r" style="left:848px;top:492px;width:10px;height:4px;background:#00A150;box-shadow:inset 0 2px 0 rgba(255,255,255,0.55)"></div>
<div class="r" style="left:836px;top:496px;width:22px;height:22px;background:#00A150;box-shadow:inset 0 2px 0 rgba(255,255,255,0.55)"></div>
<div class="r" style="left:861px;top:397px;width:46px;height:52px;background:#AC3015"></div>
<div class="r" style="left:861px;top:449px;width:27px;height:21px;background:#AC3015;box-shadow:inset 0 2px 0 rgba(255,255,255,0.55)"></div>
<div class="r" style="left:889px;top:449px;width:6px;height:10px;background:#AC3015;box-shadow:inset 0 2px 0 rgba(255,255,255,0.55)"></div>
<div class="r" style="left:896px;top:449px;width:4px;height:10px;background:#AC3015;box-shadow:inset 0 2px 0 rgba(255,255,255,0.55)"></div>
<div class="r" style="left:901px;top:449px;width:6px;height:10px;background:#AC3015;box-shadow:inset 0 2px 0 rgba(255,255,255,0.55)"></div>
<div class="r" style="left:889px;top:459px;width:9px;height:6px;background:#AC3015;box-shadow:inset 0 2px 0 rgba(255,255,255,0.55)"></div>
<div class="r" style="left:899px;top:459px;width:3px;height:6px;background:#AC3015;box-shadow:inset 0 2px 0 rgba(255,255,255,0.55)"></div>
<div class="r" style="left:903px;top:459px;width:4px;height:6px;background:#AC3015;box-shadow:inset 0 2px 0 rgba(255,255,255,0.55)"></div>
<div class="r" style="left:889px;top:465px;width:18px;height:5px;background:#AC3015;box-shadow:inset 0 2px 0 rgba(255,255,255,0.55)"></div>
<div class="r" style="left:910px;top:397px;width:27px;height:47px;background:#EBDA87"></div>
<div class="r" style="left:910px;top:444px;width:18px;height:11px;background:#EBDA87;box-shadow:inset 0 2px 0 rgba(255,255,255,0.55)"></div>
<div class="r" style="left:929px;top:444px;width:8px;height:11px;background:#EBDA87;box-shadow:inset 0 2px 0 rgba(255,255,255,0.55)"></div>
<div class="r" style="left:910px;top:455px;width:18px;height:8px;background:#EBDA87;box-shadow:inset 0 2px 0 rgba(255,255,255,0.55)"></div>
<div class="r" style="left:929px;top:455px;width:4px;height:8px;background:#EBDA87;box-shadow:inset 0 2px 0 rgba(255,255,255,0.55)"></div>
<div class="r" style="left:934px;top:455px;width:3px;height:8px;background:#EBDA87;box-shadow:inset 0 2px 0 rgba(255,255,255,0.55)"></div>
<div class="r" style="left:910px;top:463px;width:18px;height:7px;background:#EBDA87;box-shadow:inset 0 2px 0 rgba(255,255,255,0.55)"></div>
<div class="r" style="left:929px;top:463px;width:8px;height:7px;background:#EBDA87;box-shadow:inset 0 2px 0 rgba(255,255,255,0.55)"></div>
<div class="r" style="left:861px;top:473px;width:40px;height:22px;background:#5FF5B9"></div>
<div class="r" style="left:902px;top:473px;width:14px;height:15px;background:#5FF5B9"></div>
<div class="r" style="left:917px;top:473px;width:5px;height:15px;background:#5FF5B9"></div>
<div class="r" style="left:902px;top:488px;width:6px;height:7px;background:#5FF5B9;box-shadow:inset 0 2px 0 rgba(255,255,255,0.55)"></div>
<div class="r" style="left:909px;top:488px;width:7px;height:7px;background:#5FF5B9;box-shadow:inset 0 2px 0 rgba(255,255,255,0.55)"></div>
<div class="r" style="left:917px;top:488px;width:5px;height:7px;background:#5FF5B9;box-shadow:inset 0 2px 0 rgba(255,255,255,0.55)"></div>
<div class="r" style="left:925px;top:473px;width:12px;height:11px;background:#2CBA0F"></div>
<div class="r" style="left:925px;top:484px;width:8px;height:12px;background:#2CBA0F;box-shadow:inset 0 2px 0 rgba(255,255,255,0.55)"></div>
<div class="r" style="left:934px;top:484px;width:3px;height:12px;background:#2CBA0F;box-shadow:inset 0 2px 0 rgba(255,255,255,0.55)"></div>
<div class="r" style="left:861px;top:498px;width:29px;height:20px;background:#F2C843"></div>
<div class="r" style="left:891px;top:498px;width:31px;height:10px;background:#F2C843"></div>
<div class="r" style="left:891px;top:508px;width:23px;height:10px;background:#F2C843;box-shadow:inset 0 2px 0 rgba(255,255,255,0.55)"></div>
<div class="r" style="left:915px;top:508px;width:3px;height:10px;background:#F2C843;box-shadow:inset 0 2px 0 rgba(255,255,255,0.55)"></div>
<div class="r" style="left:919px;top:508px;width:3px;height:10px;background:#F2C843;box-shadow:inset 0 2px 0 rgba(255,255,255,0.55)"></div>
<div class="r" style="left:925px;top:499px;width:7px;height:14px;background:#E8B050"></div>
<div class="r" style="left:935px;top:499px;width:2px;height:7px;background:#892EFF"></div>
<div class="r" style="left:935px;top:506px;width:2px;height:8px;background:#892EFF;box-shadow:inset 0 2px 0 rgba(255,255,255,0.55)"></div>
<div class="r" style="left:925px;top:517px;width:12px;height:1px;background:#A9ABC2"></div>
<div class="t" style="left:13.60px;top:138.60px;font-size:30.24px;color:rgba(68,68,68,0.72)">Turbines</div>
<div class="t" style="left:12.83px;top:106.37px;font-size:27.31px;color:rgba(68,68,68,0.72)">Gas</div>
<div class="t" style="left:28.20px;top:203.92px;font-size:30.22px;color:rgba(68,68,68,0.72)">4.75%</div>
<div class="t" style="left:141.79px;top:116.03px;font-size:10.59px;color:rgba(68,68,68,0.72)">Transformers</div>
<div class="t" style="left:141.15px;top:103.63px;font-size:10.59px;color:rgba(68,68,68,0.72)">Electrical</div>
<div class="t" style="left:140.56px;top:212.83px;font-size:22.87px;color:rgba(68,68,68,0.72)">2.74%</div>
<div class="t" style="left:214.82px;top:118.25px;font-size:12.23px;color:rgba(68,68,68,0.72)">Processing</div>
<div class="t" style="left:215.56px;top:104.15px;font-size:12.23px;color:rgba(68,68,68,0.72)">Textile</div>
<div class="t" style="left:214.82px;top:132.15px;font-size:12.23px;color:rgba(68,68,68,0.72)">Machines</div>
<div class="t" style="left:213.84px;top:212.62px;font-size:23.13px;color:rgba(68,68,68,0.72)">2.72%</div>
<div class="t" style="left:288.43px;top:121.01px;font-size:15.82px;color:rgba(68,68,68,0.72)">Machine</div>
<div class="t" style="left:288.99px;top:103.11px;font-size:15.82px;color:rgba(68,68,68,0.72)">Office</div>
<div class="t" style="left:288.43px;top:138.61px;font-size:15.82px;color:rgba(68,68,68,0.72)">Parts</div>
<div class="t" style="left:288.94px;top:214.25px;font-size:21.20px;color:rgba(68,68,68,0.72)">2.57%</div>
<div class="t" style="left:11.49px;top:248.03px;font-size:11.42px;color:rgba(68,68,68,0.72)">Electric Batteries</div>
<div class="t" style="left:25.78px;top:277.79px;font-size:20.33px;color:rgba(68,68,68,0.72)">1.56%</div>
<div class="t" style="left:107.53px;top:248.25px;font-size:13.76px;color:rgba(68,68,68,0.72)">Valves</div>
<div class="t" style="left:111.59px;top:283.28px;font-size:24.12px;color:rgba(68,68,68,0.72)">1%</div>
<div class="t" style="left:159.74px;top:247.98px;font-size:8.29px;color:rgba(68,68,68,0.62)">Electrical</div>
<div class="t" style="left:159.99px;top:257.18px;font-size:8.29px;color:rgba(68,68,68,0.62)">Control</div>
<div class="t" style="left:159.74px;top:266.68px;font-size:8.29px;color:rgba(68,68,68,0.62)">Boards</div>
<div class="t" style="left:160.30px;top:294.06px;font-size:14.93px;color:rgba(68,68,68,0.72)">0.99%</div>
<div class="t" style="left:212.74px;top:248.06px;font-size:8.20px;color:rgba(68,68,68,0.62)">Excavation</div>
<div class="t" style="left:212.74px;top:257.26px;font-size:8.20px;color:rgba(68,68,68,0.62)">Machinery</div>
<div class="t" style="left:213.11px;top:294.15px;font-size:14.82px;color:rgba(68,68,68,0.72)">0.98%</div>
<div class="t" style="left:264.49px;top:247.70px;font-size:6.38px;color:rgba(68,68,68,0.62)">Broadcasting</div>
<div class="t" style="left:264.49px;top:254.60px;font-size:6.38px;color:rgba(68,68,68,0.62)">Equipment</div>
<div class="t" style="left:265.03px;top:292.67px;font-size:16.69px;color:rgba(68,68,68,0.72)">0.9%</div>
<div class="t" style="left:312.78px;top:297.08px;font-size:12.90px;color:rgba(68,68,68,0.72)">0.85%</div>
<div class="t" style="left:11.81px;top:311.27px;font-size:15.86px;color:rgba(68,68,68,0.72)">Computers</div>
<div class="t" style="left:25.44px;top:340.18px;font-size:20.81px;color:rgba(68,68,68,0.72)">1.51%</div>
<div class="t" style="left:11.50px;top:373.31px;font-size:13.69px;color:rgba(68,68,68,0.72)">Liquid Pumps</div>
<div class="t" style="left:29.15px;top:399.07px;font-size:17.98px;color:rgba(68,68,68,0.72)">1.36%</div>
<div class="t" style="left:11.55px;top:429.97px;font-size:11.61px;color:rgba(68,68,68,0.72)">Insulated Wire</div>
<div class="t" style="left:32.21px;top:451.61px;font-size:15.82px;color:rgba(68,68,68,0.72)">1.22%</div>
<div class="t" style="left:12.35px;top:478.91px;font-size:12.63px;color:rgba(68,68,68,0.72)">Telephones</div>
<div class="t" style="left:35.16px;top:498.95px;font-size:13.87px;color:rgba(68,68,68,0.72)">1.09%</div>
<div class="t" style="left:106.50px;top:320.70px;font-size:6.26px;color:rgba(68,68,68,0.62)">Low-voltage</div>
<div class="t" style="left:106.50px;top:328.10px;font-size:6.26px;color:rgba(68,68,68,0.62)">Protection...</div>
<div class="t" style="left:115.45px;top:343.28px;font-size:13.84px;color:rgba(68,68,68,0.72)">0.78%</div>
<div class="t" style="left:106.73px;top:367.69px;font-size:8.40px;color:rgba(68,68,68,0.62)">Electric Motors</div>
<div class="t" style="left:116.88px;top:386.55px;font-size:12.93px;color:rgba(68,68,68,0.72)">0.72%</div>
<div class="t" style="left:106.51px;top:410.30px;font-size:6.14px;color:rgba(68,68,68,0.62)">Electrical Power</div>
<div class="t" style="left:107.00px;top:417.60px;font-size:6.14px;color:rgba(68,68,68,0.62)">Accessories</div>
<div class="t" style="left:118.02px;top:427.48px;font-size:11.96px;color:rgba(68,68,68,0.72)">0.67%</div>
<div class="t" style="left:106.69px;top:450.52px;font-size:6.24px;color:rgba(68,68,68,0.62)">Carbon-based</div>
<div class="t" style="left:106.50px;top:457.82px;font-size:6.24px;color:rgba(68,68,68,0.62)">Electronics</div>
<div class="t" style="left:118.02px;top:466.88px;font-size:11.96px;color:rgba(68,68,68,0.72)">0.66%</div>
<div class="t" style="left:106.43px;top:489.28px;font-size:6.28px;color:rgba(68,68,68,0.62)">Integrated Circuits</div>
<div class="t" style="left:121.50px;top:503.23px;font-size:9.89px;color:rgba(68,68,68,0.72)">0.57%</div>
<div class="t" style="left:173.64px;top:361.19px;font-size:8.99px;color:rgba(68,68,68,0.62)">0.54%</div>
<div class="t" style="left:208.88px;top:319.80px;font-size:6.50px;color:rgba(68,68,68,0.62)">Electric...</div>
<div class="t" style="left:209.08px;top:361.96px;font-size:8.08px;color:rgba(68,68,68,0.62)">0.49%</div>
<div class="t" style="left:240.48px;top:320.50px;font-size:6.50px;color:rgba(68,68,68,0.62)">Engine</div>
<div class="t" style="left:240.48px;top:327.90px;font-size:6.50px;color:rgba(68,68,68,0.62)">Parts</div>
<div class="t" style="left:241.42px;top:363.48px;font-size:6.99px;color:rgba(68,68,68,0.62)">0.46%</div>
<div class="t" style="left:271.42px;top:363.48px;font-size:6.99px;color:rgba(68,68,68,0.62)">0.45%</div>
<div class="t" style="left:300.71px;top:363.26px;font-size:7.25px;color:rgba(68,68,68,0.62)">0.44%</div>
<div class="t" style="left:329.28px;top:320.50px;font-size:6.50px;color:rgba(68,68,68,0.62)">Lifting...</div>
<div class="t" style="left:329.51px;top:363.26px;font-size:7.25px;color:rgba(68,68,68,0.62)">0.43%</div>
<div class="t" style="left:172.99px;top:379.47px;font-size:7.00px;color:rgba(68,68,68,0.62)">Other...</div>
<div class="t" style="left:179.94px;top:394.16px;font-size:9.02px;color:rgba(68,68,68,0.72)">0.42%</div>
<div class="t" style="left:221.48px;top:379.50px;font-size:6.50px;color:rgba(68,68,68,0.62)">Metal...</div>
<div class="t" style="left:221.72px;top:398.57px;font-size:6.88px;color:rgba(68,68,68,0.62)">0.27%</div>
<div class="t" style="left:250.71px;top:379.50px;font-size:6.50px;color:rgba(68,68,68,0.62)">Other...</div>
<div class="t" style="left:250.71px;top:398.26px;font-size:7.25px;color:rgba(68,68,68,0.62)">0.27%</div>
<div class="t" style="left:280.00px;top:379.50px;font-size:6.50px;color:rgba(68,68,68,0.62)">Audio...</div>
<div class="t" style="left:280.76px;top:399.91px;font-size:6.01px;color:rgba(68,68,68,0.62)">0.26%</div>
<div class="t" style="left:307.35px;top:399.75px;font-size:6.20px;color:rgba(68,68,68,0.62)">0.24%</div>
<div class="t" style="left:172.79px;top:413.62px;font-size:8.12px;color:rgba(68,68,68,0.62)">Cranes</div>
<div class="t" style="left:182.44px;top:426.02px;font-size:9.07px;color:rgba(68,68,68,0.72)">0.4%</div>
<div class="t" style="left:173.20px;top:445.10px;font-size:6.50px;color:rgba(68,68,68,0.62)">Air Pumps</div>
<div class="t" style="left:182.51px;top:454.86px;font-size:7.25px;color:rgba(68,68,68,0.62)">0.34%</div>
<div class="t" style="left:172.91px;top:471.90px;font-size:6.50px;color:rgba(68,68,68,0.62)">Steam...</div>
<div class="t" style="left:182.51px;top:482.26px;font-size:7.25px;color:rgba(68,68,68,0.62)">0.33%</div>
<div class="t" style="left:172.94px;top:499.37px;font-size:5.82px;color:rgba(68,68,68,0.62)">Other Heating...</div>
<div class="t" style="left:183.74px;top:507.28px;font-size:6.52px;color:rgba(68,68,68,0.62)">0.31%</div>
<div class="t" style="left:221.56px;top:416.98px;font-size:5.45px;color:rgba(68,68,68,0.62)">Electrical...</div>
<div class="t" style="left:227.78px;top:424.60px;font-size:5.43px;color:rgba(68,68,68,0.62)">0.23%</div>
<div class="t" style="left:259.80px;top:462.12px;font-size:6.00px;color:rgba(68,68,68,0.62)">Air...</div>
<div class="t" style="left:359.05px;top:103.97px;font-size:41.85px;color:rgba(255,255,255,0.95)">Refined</div>
<div class="t" style="left:360.31px;top:151.27px;font-size:41.85px;color:rgba(255,255,255,0.95)">Copper</div>
<div class="t" style="left:443.24px;top:312.04px;font-size:31.49px;color:rgba(255,255,255,0.95)">17.2%</div>
<div class="t" style="left:360.43px;top:357.43px;font-size:7.16px;color:rgba(255,255,255,0.85)">Razor Blades</div>
<div class="t" style="left:377.48px;top:369.83px;font-size:8.12px;color:rgba(255,255,255,0.85)">0.54%</div>
<div class="t" style="left:360.71px;top:388.28px;font-size:6.40px;color:rgba(255,255,255,0.85)">Other Iron Products</div>
<div class="t" style="left:377.48px;top:399.73px;font-size:8.12px;color:rgba(255,255,255,0.85)">0.51%</div>
<div class="t" style="left:426.49px;top:356.67px;font-size:7.00px;color:rgba(255,255,255,0.85)">Other...</div>
<div class="t" style="left:431.24px;top:370.50px;font-size:9.09px;color:rgba(255,255,255,0.95)">0.37%</div>
<div class="t" style="left:426.49px;top:388.67px;font-size:7.00px;color:rgba(255,255,255,0.85)">Scrap...</div>
<div class="t" style="left:432.68px;top:399.79px;font-size:8.04px;color:rgba(255,255,255,0.85)">0.34%</div>
<div class="t" style="left:470.37px;top:356.67px;font-size:7.00px;color:rgba(255,255,255,0.85)">Iron...</div>
<div class="t" style="left:472.17px;top:373.70px;font-size:8.15px;color:rgba(255,255,255,0.85)">0.31%</div>
<div class="t" style="left:475.27px;top:402.32px;font-size:5.76px;color:rgba(255,255,255,0.85)">0.23%</div>
<div class="t" style="left:505.37px;top:356.67px;font-size:7.00px;color:rgba(255,255,255,0.85)">Iron...</div>
<div class="t" style="left:510.27px;top:366.45px;font-size:5.72px;color:rgba(255,255,255,0.85)">0.23%</div>
<div class="t" style="left:539.37px;top:356.67px;font-size:7.00px;color:rgba(255,255,255,0.85)">Iron...</div>
<div class="t" style="left:360.49px;top:427.10px;font-size:6.38px;color:rgba(68,68,68,0.62)">Peroxometallic Acid</div>
<div class="t" style="left:360.71px;top:419.90px;font-size:6.38px;color:rgba(68,68,68,0.62)">Oxometallic or</div>
<div class="t" style="left:360.71px;top:434.60px;font-size:6.38px;color:rgba(68,68,68,0.62)">Salts</div>
<div class="t" style="left:366.37px;top:449.99px;font-size:15.72px;color:rgba(68,68,68,0.72)">0.95%</div>
<div class="t" style="left:360.75px;top:484.33px;font-size:6.22px;color:rgba(68,68,68,0.62)">antisera, toxins and...</div>
<div class="t" style="left:360.97px;top:476.83px;font-size:6.22px;color:rgba(68,68,68,0.62)">Vaccines, blood</div>
<div class="t" style="left:369.45px;top:498.63px;font-size:13.66px;color:rgba(68,68,68,0.72)">0.79%</div>
<div class="t" style="left:425.28px;top:420.44px;font-size:6.45px;color:rgba(68,68,68,0.62)">Glands and Other...</div>
<div class="t" style="left:436.26px;top:436.64px;font-size:11.05px;color:rgba(68,68,68,0.72)">0.59%</div>
<div class="t" style="left:425.14px;top:457.57px;font-size:5.71px;color:rgba(68,68,68,0.62)">Reaction and...</div>
<div class="t" style="left:437.19px;top:472.58px;font-size:10.18px;color:rgba(68,68,68,0.72)">0.58%</div>
<div class="t" style="left:425.17px;top:493.96px;font-size:5.36px;color:rgba(68,68,68,0.62)">Packaged...</div>
<div class="t" style="left:440.28px;top:504.23px;font-size:8.12px;color:rgba(68,68,68,0.62)">0.49%</div>
<div class="t" style="left:486.29px;top:428.49px;font-size:7.57px;color:rgba(68,68,68,0.62)">Products</div>
<div class="t" style="left:486.29px;top:420.39px;font-size:7.57px;color:rgba(68,68,68,0.62)">Dental</div>
<div class="t" style="left:487.56px;top:442.90px;font-size:10.98px;color:rgba(68,68,68,0.72)">0.47%</div>
<div class="t" style="left:486.50px;top:465.07px;font-size:5.00px;color:rgba(68,68,68,0.62)">Beauty...</div>
<div class="t" style="left:489.52px;top:478.32px;font-size:9.42px;color:rgba(68,68,68,0.72)">0.37%</div>
<div class="t" style="left:486.67px;top:498.72px;font-size:5.06px;color:rgba(68,68,68,0.62)">Special...</div>
<div class="t" style="left:494.76px;top:506.67px;font-size:5.94px;color:rgba(68,68,68,0.62)">0.27%</div>
<div class="t" style="left:528.07px;top:419.37px;font-size:7.00px;color:rgba(68,68,68,0.62)">Iron...</div>
<div class="t" style="left:529.76px;top:435.78px;font-size:6.05px;color:rgba(68,68,68,0.62)">0.23%</div>
<div class="t" style="left:557.46px;top:435.72px;font-size:6.12px;color:rgba(68,68,68,0.62)">0.2%</div>
<div class="t" style="left:528.67px;top:488.89px;font-size:6.04px;color:rgba(68,68,68,0.62)">Waxes</div>
<div class="t" style="left:626.61px;top:129.77px;font-size:12.08px;color:rgba(255,255,255,0.95)">Instruments</div>
<div class="t" style="left:627.14px;top:104.45px;font-size:11.28px;color:rgba(255,255,255,0.95)">Chemical</div>
<div class="t" style="left:627.70px;top:117.75px;font-size:10.92px;color:rgba(255,255,255,0.95)">Analysis</div>
<div class="t" style="left:628.96px;top:171.24px;font-size:26.88px;color:rgba(255,255,255,0.95)">2.1%</div>
<div class="t" style="left:701.40px;top:110.86px;font-size:6.67px;color:rgba(255,255,255,0.85)">Instruments</div>
<div class="t" style="left:701.47px;top:103.46px;font-size:6.67px;color:rgba(255,255,255,0.85)">Medical</div>
<div class="t" style="left:702.72px;top:187.27px;font-size:13.03px;color:rgba(255,255,255,0.95)">1.35%</div>
<div class="t" style="left:626.86px;top:211.29px;font-size:7.57px;color:rgba(255,255,255,0.85)">Orthopedic</div>
<div class="t" style="left:627.20px;top:219.99px;font-size:7.57px;color:rgba(255,255,255,0.85)">Appliances</div>
<div class="t" style="left:631.62px;top:235.37px;font-size:14.56px;color:rgba(255,255,255,0.95)">0.7%</div>
<div class="t" style="left:627.05px;top:261.30px;font-size:7.44px;color:rgba(255,255,255,0.85)">Thermostats</div>
<div class="t" style="left:634.30px;top:276.76px;font-size:9.96px;color:rgba(255,255,255,0.95)">0.49%</div>
<div class="t" style="left:678.60px;top:210.58px;font-size:6.75px;color:rgba(255,255,255,0.85)">Other...</div>
<div class="t" style="left:680.47px;top:231.42px;font-size:10.84px;color:rgba(255,255,255,0.95)">0.4%</div>
<div class="t" style="left:715.49px;top:211.01px;font-size:6.25px;color:rgba(255,255,255,0.85)">Gas and</div>
<div class="t" style="left:715.30px;top:219.11px;font-size:6.25px;color:rgba(255,255,255,0.85)">Liquid...</div>
<div class="t" style="left:717.09px;top:233.94px;font-size:7.86px;color:rgba(255,255,255,0.85)">0.37%</div>
<div class="t" style="left:683.66px;top:260.43px;font-size:5.99px;color:rgba(255,255,255,0.85)">0.2%</div>
<div class="t" style="left:751.81px;top:104.21px;font-size:28.57px;color:rgba(255,255,255,0.95)">Rough</div>
<div class="t" style="left:753.96px;top:136.51px;font-size:28.57px;color:rgba(255,255,255,0.95)">Wood</div>
<div class="t" style="left:757.45px;top:194.76px;font-size:26.27px;color:rgba(255,255,255,0.95)">3.33%</div>
<div class="t" style="left:751.50px;top:235.24px;font-size:11.17px;color:rgba(255,255,255,0.95)">Sawn</div>
<div class="t" style="left:751.94px;top:248.04px;font-size:11.17px;color:rgba(255,255,255,0.95)">Wood</div>
<div class="t" style="left:752.11px;top:271.05px;font-size:14.82px;color:rgba(255,255,255,0.95)">0.86%</div>
<div class="t" style="left:804.07px;top:234.41px;font-size:6.13px;color:rgba(255,255,255,0.85)">Wood...</div>
<div class="t" style="left:804.62px;top:251.94px;font-size:6.92px;color:rgba(255,255,255,0.85)">0.27%</div>
<div class="t" style="left:851.10px;top:157.25px;font-size:15.06px;color:rgba(68,68,68,0.72)">accessories</div>
<div class="t" style="left:850.50px;top:104.15px;font-size:15.06px;color:rgba(68,68,68,0.72)">Motor</div>
<div class="t" style="left:851.62px;top:121.75px;font-size:15.06px;color:rgba(68,68,68,0.72)">vehicles;</div>
<div class="t" style="left:850.72px;top:139.35px;font-size:15.06px;color:rgba(68,68,68,0.72)">parts and</div>
<div class="t" style="left:850.80px;top:175.05px;font-size:15.06px;color:rgba(68,68,68,0.72)">(8701 to</div>
<div class="t" style="left:851.02px;top:192.75px;font-size:15.06px;color:rgba(68,68,68,0.72)">8705)</div>
<div class="t" style="left:854.87px;top:231.10px;font-size:26.69px;color:rgba(68,68,68,0.72)">4.12%</div>
<div class="t" style="left:626.87px;top:299.61px;font-size:7.31px;color:rgba(68,68,68,0.62)">Other Rubber</div>
<div class="t" style="left:626.62px;top:308.01px;font-size:7.31px;color:rgba(68,68,68,0.62)">Products</div>
<div class="t" style="left:638.64px;top:320.15px;font-size:13.88px;color:rgba(68,68,68,0.72)">0.85%</div>
<div class="t" style="left:626.87px;top:344.53px;font-size:7.29px;color:rgba(68,68,68,0.62)">Other Plastic</div>
<div class="t" style="left:626.62px;top:353.13px;font-size:7.29px;color:rgba(68,68,68,0.62)">Products</div>
<div class="t" style="left:638.64px;top:364.95px;font-size:13.88px;color:rgba(68,68,68,0.72)">0.84%</div>
<div class="t" style="left:626.92px;top:389.15px;font-size:6.20px;color:rgba(68,68,68,0.62)">Synthetic Rubber</div>
<div class="t" style="left:647.29px;top:400.87px;font-size:7.83px;color:rgba(68,68,68,0.62)">0.58%</div>
<div class="t" style="left:698.40px;top:299.76px;font-size:6.31px;color:rgba(68,68,68,0.62)">Rubber Tires</div>
<div class="t" style="left:702.40px;top:318.23px;font-size:10.00px;color:rgba(68,68,68,0.72)">0.45%</div>
<div class="t" style="left:698.58px;top:370.27px;font-size:7.00px;color:rgba(68,68,68,0.62)">Self...</div>
<div class="t" style="left:771.21px;top:299.87px;font-size:10.78px;color:rgba(68,68,68,0.72)">Other Furniture</div>
<div class="t" style="left:782.16px;top:326.67px;font-size:17.87px;color:rgba(68,68,68,0.72)">1.22%</div>
<div class="t" style="left:771.14px;top:357.06px;font-size:12.44px;color:rgba(68,68,68,0.72)">Seats</div>
<div class="t" style="left:789.49px;top:375.90px;font-size:12.75px;color:rgba(68,68,68,0.72)">0.95%</div>
<div class="t" style="left:874.52px;top:299.25px;font-size:8.44px;color:rgba(68,68,68,0.62)">Malt Extract</div>
<div class="t" style="left:878.88px;top:322.75px;font-size:12.93px;color:rgba(68,68,68,0.72)">0.67%</div>
<div class="t" style="left:874.39px;top:367.11px;font-size:6.13px;color:rgba(68,68,68,0.62)">Coffee...</div>
<div class="t" style="left:625.74px;top:421.42px;font-size:21.95px;color:rgba(68,68,68,0.72)">Milk</div>
<div class="t" style="left:656.29px;top:449.00px;font-size:20.07px;color:rgba(68,68,68,0.72)">1.93%</div>
<div class="t" style="left:627.06px;top:480.50px;font-size:8.50px;color:rgba(68,68,68,0.62)">Whey and other milk products</div>
<div class="t" style="left:666.44px;top:499.66px;font-size:12.81px;color:rgba(68,68,68,0.72)">1.41%</div>
<div class="t" style="left:770.69px;top:410.75px;font-size:8.21px;color:rgba(68,68,68,0.62)">Ceramic Ware</div>
<div class="t" style="left:770.44px;top:402.05px;font-size:8.21px;color:rgba(68,68,68,0.62)">Laboratory</div>
<div class="t" style="left:783.24px;top:429.91px;font-size:19.48px;color:rgba(68,68,68,0.72)">1%</div>
<div class="t" style="left:831.88px;top:401.80px;font-size:6.50px;color:rgba(68,68,68,0.62)">Rock...</div>
<div class="t" style="left:834.66px;top:414.11px;font-size:6.01px;color:rgba(68,68,68,0.62)">0.23%</div>
<div class="t" style="left:864.49px;top:402.02px;font-size:7.66px;color:rgba(255,255,255,0.85)">Petroleum</div>
<div class="t" style="left:864.72px;top:410.22px;font-size:7.66px;color:rgba(255,255,255,0.85)">Coke</div>
<div class="t" style="left:865.28px;top:429.69px;font-size:13.01px;color:rgba(255,255,255,0.95)">0.67%</div>
<div class="t" style="left:914.21px;top:432.13px;font-size:7.17px;color:rgba(68,68,68,0.62)">0.41%</div>
<div class="t" style="left:770.59px;top:463.72px;font-size:6.35px;color:rgba(255,255,255,0.85)">Polyamide</div>
<div class="t" style="left:770.59px;top:471.12px;font-size:6.35px;color:rgba(255,255,255,0.85)">Fabric</div>
<div class="t" style="left:773.70px;top:480.49px;font-size:9.93px;color:rgba(255,255,255,0.95)">0.44%</div>
</body></html>
